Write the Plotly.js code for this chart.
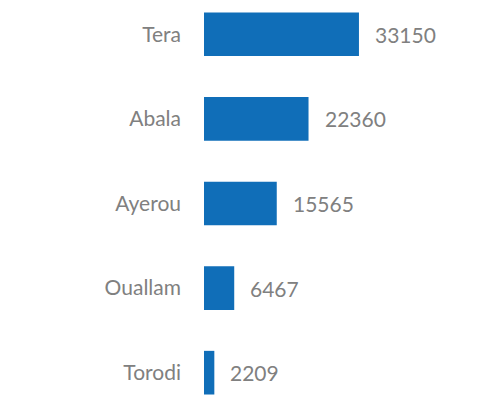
<!DOCTYPE html>
<html>
<head>
<meta charset="utf-8">
<script src="https://cdn.plot.ly/plotly-3.0.1.min.js"></script>
<style>html,body{margin:0;padding:0;background:#fff;}#chart{width:477px;height:405px;}</style>
</head>
<body>
<div id="chart"></div>
<script>
var categories = ["Torodi", "Ouallam", "Ayerou", "Abala", "Tera"];
var values = [2209, 6467, 15565, 22360, 33150];
var valueLabels = ["2209", "6467", "15565", "22360", "33150"];

var trace = {
  type: "bar",
  orientation: "h",
  y: categories,
  x: values,
  width: 0.516,
  marker: {color: "#106EB8", line: {width: 0}},
  hoverinfo: "none"
};

var annotations = values.map(function(v, i) {
  return {
    x: v, y: categories[i], xref: "x", yref: "y",
    text: valueLabels[i], showarrow: false,
    xanchor: "left", yanchor: "middle", xshift: 14,
    font: {family: "Lato, sans-serif", size: 21, color: "#808080"}
  };
});

var layout = {
  width: 477, height: 405,
  margin: {l: 204, r: 0, t: 0, b: 0, pad: 0},
  paper_bgcolor: "#ffffff", plot_bgcolor: "#ffffff",
  showlegend: false,
  xaxis: {range: [0, 58400], visible: false, fixedrange: true},
  yaxis: {
    type: "category", categoryorder: "array", categoryarray: categories,
    range: [-0.382, 4.405], showgrid: false, zeroline: false, showline: false,
    ticks: "", ticklabelstandoff: 22,
    tickfont: {family: "Lato, sans-serif", size: 21, color: "#808080"},
    fixedrange: true
  },
  annotations: annotations
};

Plotly.newPlot("chart", [trace], layout, {displayModeBar: false, staticPlot: true});
</script>
</body>
</html>
